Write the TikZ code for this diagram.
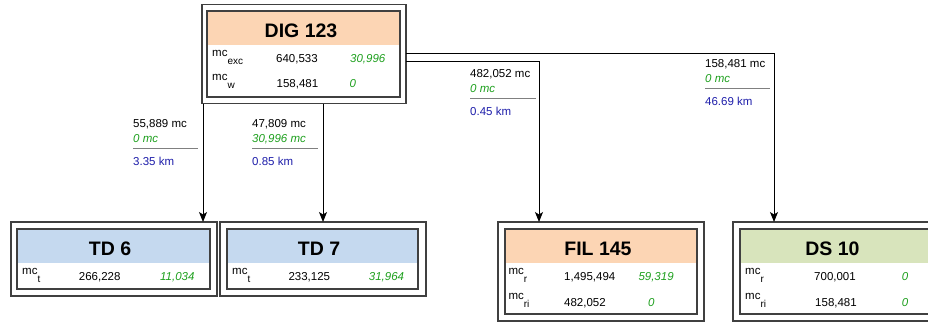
\documentclass[tikz,border=0pt]{standalone}
\usepackage{fontspec}
\setmainfont{Liberation Sans}
\usetikzlibrary{arrows.meta}
\definecolor{hdorange}{RGB}{252,213,180}
\definecolor{hdblue}{RGB}{197,217,239}
\definecolor{hdgreen}{RGB}{216,228,188}
\definecolor{txtgreen}{RGB}{30,160,30}
\definecolor{txtblue}{RGB}{30,30,170}
\definecolor{boxgray}{RGB}{64,64,64}
\definecolor{sepgray}{RGB}{128,128,128}
\newcommand\mcsub[1]{\raisebox{6.5pt}{mc}\raisebox{-1.5pt}{\fontsize{10}{10}\selectfont #1}}
\tikzset{
  outerbox/.style={draw=boxgray, line width=1.3pt, inner sep=0pt, outer sep=0pt, rectangle},
  innerbox/.style={draw=boxgray, line width=1.3pt},
  body/.style={inner sep=0pt, anchor=base west, font=\fontsize{11.5}{13}\selectfont},
  gnum/.style={body, text=txtgreen, font=\fontsize{11.5}{13}\selectfont\itshape},
  bnum/.style={body, text=txtblue},
  title/.style={inner sep=0pt, anchor=base, font=\fontsize{19.5}{22}\selectfont\bfseries},
  sep/.style={draw=sepgray, line width=1.2pt},
  arr/.style={draw=black, line width=1pt, -{Stealth[length=10pt,width=8pt,inset=2.5pt]}}
}
\begin{document}
\begin{tikzpicture}[x=1pt,y=-1pt]
\useasboundingbox (0,0) rectangle (928,322);
\clip (0,0) rectangle (928,322);
\fill[white] (0,0) rectangle (928,322);

% ---------- DIG 123 ----------
\node[outerbox, minimum width=204pt, minimum height=99pt] (dig) at (304,54) {};
\fill[hdorange] (207,11) rectangle (400,45);
\draw[innerbox] (207,11) rectangle (400,97);
\node[title] (digT) at (301,37.3) {DIG 123};
\node[body] (digL1) at (212,62.5) {\mcsub{exc}};
\node[body] (digN1) at (276,62.5) {640,533};
\node[gnum] (digG1) at (350,62.5) {30,996};
\node[body] (digL2) at (212,87.3) {\mcsub{w}};
\node[body] (digN2) at (276.5,87.3) {158,481};
\node[gnum] (digG2) at (349.5,87.3) {0};

% ---------- TD 6 ----------
\node[outerbox, minimum width=206pt, minimum height=74pt] (td6) at (114,259) {};
\fill[hdblue] (17,229) rectangle (210,263);
\draw[innerbox] (17,229) rectangle (210,289);
\node[title] (td6T) at (110,255) {TD 6};
\node[body] (td6L1) at (22,280.7) {\mcsub{t}};
\node[body] (td6N1) at (78.7,280.7) {266,228};
\node[gnum] (td6G1) at (160,280.7) {11,034};

% ---------- TD 7 ----------
\node[outerbox, minimum width=206pt, minimum height=74pt] (td7) at (323,259) {};
\fill[hdblue] (227,229) rectangle (418,263);
\draw[innerbox] (227,229) rectangle (418,289);
\node[title] (td7T) at (319,255) {TD 7};
\node[body] (td7L1) at (232,280.7) {\mcsub{t}};
\node[body] (td7N1) at (288.3,280.7) {233,125};
\node[gnum] (td7G1) at (368.7,280.7) {31,964};

% ---------- FIL 145 ----------
\node[outerbox, minimum width=206pt, minimum height=99pt] (fil) at (601,271.5) {};
\fill[hdorange] (505,229) rectangle (697,263);
\draw[innerbox] (505,229) rectangle (697,314);
\node[title] (filT) at (598,255) {FIL 145};
\node[body] (filL1) at (508.3,280.7) {\mcsub{r}};
\node[body] (filN1) at (564,280.7) {1,495,494};
\node[gnum] (filG1) at (638.3,280.7) {59,319};
\node[body] (filL2) at (508.3,306) {\mcsub{ri}};
\node[body] (filN2) at (564,306) {482,052};
\node[gnum] (filG2) at (648,306) {0};

% ---------- DS 10 ----------
\node[outerbox, minimum width=206pt, minimum height=99pt] (ds) at (836,271.5) {};
\fill[hdgreen] (740,229) rectangle (932,263);
\draw[innerbox] (740,229) rectangle (932,314);
\node[title] (dsT) at (832.5,255) {DS 10};
\node[body] (dsL1) at (745,280.7) {\mcsub{r}};
\node[body] (dsN1) at (814,280.7) {700,001};
\node[gnum] (dsG1) at (901.7,280.7) {0};
\node[body] (dsL2) at (745,306) {\mcsub{ri}};
\node[body] (dsN2) at (815,306) {158,481};
\node[gnum] (dsG2) at (901.7,306) {0};

% ---------- connectors ----------
\draw[arr] ([xshift=1pt]dig.south west) -- ([xshift=1pt]dig.south west |- td6.north);
\draw[arr] ([xshift=19pt]dig.south) -- ([xshift=19pt]dig.south |- td7.north);
\draw[arr] ([yshift=-7pt]dig.east) -| ([xshift=41pt]fil.north west);
\draw[arr] ([yshift=1pt]dig.east) -| ([xshift=41pt]ds.north west);

% ---------- edge labels ----------
\node[body] (e1a) at (133,127.5) {55,889 mc};
\node[gnum] (e1b) at (133,142.5) {0 mc};
\draw[sep] (133,148.5) -- (198,148.5);
\node[bnum] (e1c) at (133,165.5) {3.35 km};

\node[body] (e2a) at (252,127.5) {47,809 mc};
\node[gnum] (e2b) at (252,142.5) {30,996 mc};
\draw[sep] (252,148.5) -- (318,148.5);
\node[bnum] (e2c) at (252,165.5) {0.85 km};

\node[body] (e3a) at (470,77.3) {482,052 mc};
\node[gnum] (e3b) at (470,92.3) {0 mc};
\draw[sep] (470,98.3) -- (536,98.3);
\node[bnum] (e3c) at (470,115.5) {0.45 km};

\node[body] (e4a) at (705,67.7) {158,481 mc};
\node[gnum] (e4b) at (705,82.7) {0 mc};
\draw[sep] (705,88.7) -- (770,88.7);
\node[bnum] (e4c) at (705,105.7) {46.69 km};
\end{tikzpicture}
\end{document}
